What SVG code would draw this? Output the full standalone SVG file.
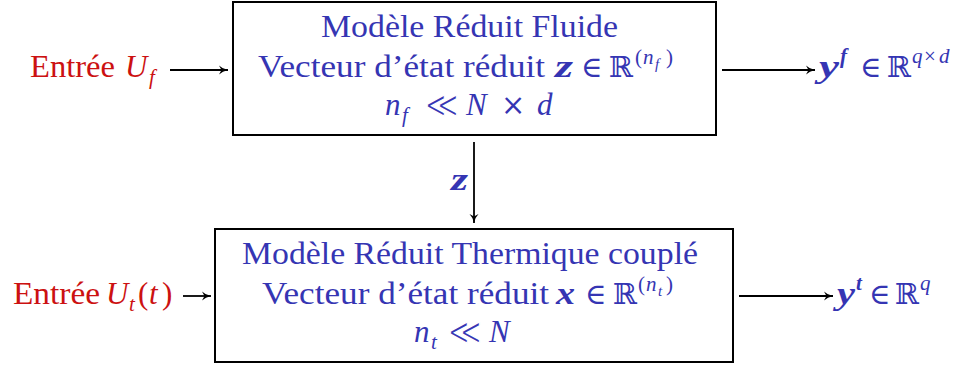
<svg xmlns="http://www.w3.org/2000/svg" width="965" height="369" viewBox="0 0 965 369">
<style>
text{font-family:"Liberation Serif","DejaVu Serif",serif;font-size:31px}
.b{fill:#3535b3}
.r{fill:#cc1111}
.i{font-style:italic}
.bi{font-style:italic;font-weight:bold}
.s{font-size:21px}
.ss{font-size:15px}
.m{font-family:"DejaVu Serif",serif;font-size:29px;font-weight:normal}
.ll{font-family:"DejaVu Serif",serif;font-size:36px;stroke:#fff;stroke-width:1.2px;paint-order:fill}
.box{fill:#fff;stroke:#000;stroke-width:2}
.ar{stroke:#000;stroke-width:1.8;fill:none;marker-end:url(#ah)}
</style>
<defs>
<marker id="ah" markerWidth="12" markerHeight="12" refX="9" refY="5" orient="auto" markerUnits="userSpaceOnUse">
<path d="M0,0.5 Q3.5,4 9,5 Q3.5,6 0,9.5 L2.5,5 Z" fill="#000"/>
</marker>
</defs>
<g id="connectors">
<line class="ar" x1="170" y1="70" x2="228" y2="70"/>
<line class="ar" x1="722" y1="70" x2="815" y2="70"/>
<line class="ar" x1="474" y1="142" x2="474" y2="223"/>
<line class="ar" x1="183" y1="296" x2="211" y2="296"/>
<line class="ar" x1="739" y1="296" x2="833" y2="296"/>
<text class="b bi" x="451" y="190" textLength="17" lengthAdjust="spacingAndGlyphs">z</text>
</g>
<g id="input-fluide">
<text class="r" y="77"><tspan x="30" textLength="85" lengthAdjust="spacingAndGlyphs">Entrée</tspan><tspan class="i" x="125">U</tspan><tspan class="i s" x="149" y="84">f</tspan></text>
</g>
<g id="modele-fluide">
<rect class="box" x="233" y="2" width="483" height="133"/>
<text class="b" x="321" y="37" textLength="297" lengthAdjust="spacingAndGlyphs">Modèle Réduit Fluide</text>
<text class="b" y="77"><tspan x="258" textLength="287" lengthAdjust="spacingAndGlyphs">Vecteur d’état réduit</tspan><tspan class="bi" x="555" textLength="18" lengthAdjust="spacingAndGlyphs">z</tspan><tspan class="m" x="581">∈</tspan><tspan class="m" x="609">ℝ</tspan><tspan class="s" x="635" y="64">(</tspan><tspan class="i s" x="643">n</tspan><tspan class="i ss" x="655" y="69">f</tspan><tspan class="s" x="666" y="64">)</tspan></text>
<text class="b" y="115"><tspan class="i" x="385">n</tspan><tspan class="i s" x="402" y="122">f</tspan><tspan class="ll" x="425" y="117" textLength="34" lengthAdjust="spacingAndGlyphs">≪</tspan><tspan class="i" x="466" y="115">N</tspan><tspan class="m" x="501">×</tspan><tspan class="i" x="537">d</tspan></text>
</g>
<g id="sortie-fluide">
<text class="b" y="77"><tspan class="bi" x="819" textLength="20" lengthAdjust="spacingAndGlyphs">y</tspan><tspan class="bi s" x="840" y="63">f</tspan><tspan class="m" x="860" y="77">∈</tspan><tspan class="m" x="887">ℝ</tspan><tspan class="i s" x="912" y="63">q</tspan><tspan class="s" x="924">×</tspan><tspan class="i s" x="939">d</tspan></text>
</g>
<g id="input-thermique">
<text class="r" y="304"><tspan x="13" textLength="87" lengthAdjust="spacingAndGlyphs">Entrée</tspan><tspan class="i" x="106">U</tspan><tspan class="i s" x="129" y="311">t</tspan><tspan x="138" y="304">(</tspan><tspan class="i" x="149">t</tspan><tspan x="162">)</tspan></text>
</g>
<g id="modele-thermique">
<rect class="box" x="215" y="229" width="518" height="133"/>
<text class="b" x="242" y="264" textLength="456" lengthAdjust="spacingAndGlyphs">Modèle Réduit Thermique couplé</text>
<text class="b" y="304"><tspan x="262" textLength="287" lengthAdjust="spacingAndGlyphs">Vecteur d’état réduit</tspan><tspan class="bi" x="556" textLength="19" lengthAdjust="spacingAndGlyphs">x</tspan><tspan class="m" x="585">∈</tspan><tspan class="m" x="613">ℝ</tspan><tspan class="s" x="638" y="291">(</tspan><tspan class="i s" x="646">n</tspan><tspan class="i ss" x="658" y="296">t</tspan><tspan class="s" x="666" y="291">)</tspan></text>
<text class="b" y="342"><tspan class="i" x="414">n</tspan><tspan class="i s" x="431" y="349">t</tspan><tspan class="ll" x="448" y="344" textLength="34" lengthAdjust="spacingAndGlyphs">≪</tspan><tspan class="i" x="489" y="342">N</tspan></text>
</g>
<g id="sortie-thermique">
<text class="b" y="304"><tspan class="bi" x="837" textLength="18" lengthAdjust="spacingAndGlyphs">y</tspan><tspan class="bi s" x="856" y="290">t</tspan><tspan class="m" x="869" y="304">∈</tspan><tspan class="m" x="895">ℝ</tspan><tspan class="i s" x="920" y="290">q</tspan></text>
</g>
</svg>
